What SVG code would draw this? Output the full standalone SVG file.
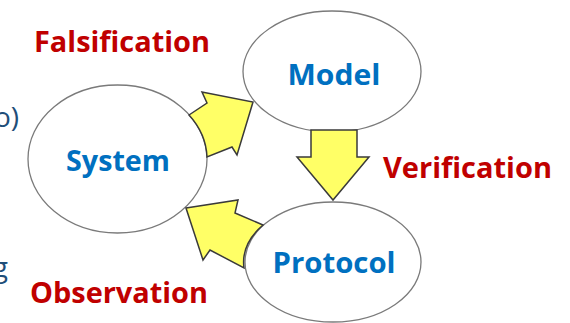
<svg xmlns="http://www.w3.org/2000/svg" width="570" height="323" viewBox="0 0 570 323">
<style>
.node ellipse{fill:#ffffff;stroke:#7a7a7a;stroke-width:1.3}
.lbl{font-family:"Open Sans","Liberation Sans",sans-serif;font-weight:bold;font-size:29px;text-anchor:middle}
.blue{fill:#0070c0}
.red{fill:#c00000}
.arrow{fill:#ffff66;stroke:#3a3a3a;stroke-width:1.5;stroke-linejoin:miter}
.side{font-family:"Open Sans","Liberation Sans",sans-serif;font-size:28px;fill:#1f4e79;text-anchor:end}
</style>
<rect width="570" height="323" fill="#ffffff"/>
<text class="side" x="19" y="127">o)</text>
<text class="side" x="8" y="277">g</text>
<g id="system" class="node">
<ellipse cx="117.5" cy="159" rx="89.5" ry="74"/>
<text class="lbl blue" x="118" y="171" textLength="104" lengthAdjust="spacingAndGlyphs">System</text>
</g>
<g id="model" class="node">
<ellipse cx="332" cy="71.5" rx="89" ry="60.5"/>
<text class="lbl blue" x="334" y="85" textLength="93" lengthAdjust="spacingAndGlyphs">Model</text>
</g>
<g id="protocol" class="node">
<ellipse cx="333" cy="262" rx="88" ry="60"/>
<text class="lbl blue" x="334" y="273" textLength="123" lengthAdjust="spacingAndGlyphs">Protocol</text>
</g>
<g id="connectors">
<path class="arrow" d="M189,115 L207,103 L202,92 L253,102 L237,155 L232,147 L207,157 A89.5 74 0 0 0 189,115 Z"/>
<path class="arrow" d="M311,130 L357,130 L357,157 L369,157 L333,200 L297,157 L311,157 Z"/>
<path class="arrow" d="M186,208 L238,200 L235,213 L263,225 A88 60 0 0 0 244,268 L210,250 L203,260 Z"/>
</g>
<g id="labels">
<text class="lbl red" x="122" y="52" textLength="176" lengthAdjust="spacingAndGlyphs">Falsification</text>
<text class="lbl red" x="467.5" y="178" textLength="169" lengthAdjust="spacingAndGlyphs">Verification</text>
<text class="lbl red" x="119" y="303" textLength="178" lengthAdjust="spacingAndGlyphs">Observation</text>
</g>
</svg>
